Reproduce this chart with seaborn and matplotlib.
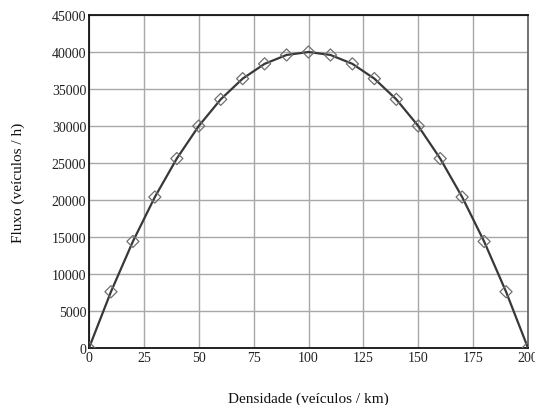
import matplotlib
matplotlib.use("Agg")
import matplotlib.pyplot as plt
import seaborn as sns
import pandas as pd

densidade = [0, 10, 20, 30, 40, 50, 60, 70, 80, 90, 100,
             110, 120, 130, 140, 150, 160, 170, 180, 190, 200]
fluxo = [0, 7600, 14400, 20400, 25600, 30000, 33600, 36400, 38400, 39600, 40000,
         39600, 38400, 36400, 33600, 30000, 25600, 20400, 14400, 7600, 0]
x_ticks = [0, 25, 50, 75, 100, 125, 150, 175, 200]
y_ticks = [0, 5000, 10000, 15000, 20000, 25000, 30000, 35000, 40000, 45000]

df = pd.DataFrame({"Densidade": densidade, "Fluxo": fluxo})

sns.set_style("white")
plt.rcParams["font.family"] = ["Liberation Serif", "DejaVu Serif"]

fig = plt.figure(figsize=(5.35, 4.06), dpi=100)
ax = fig.add_axes([89 / 535, 1 - 349 / 406, (528 - 89) / 535, (349 - 16) / 406])

sns.lineplot(data=df, x="Densidade", y="Fluxo", ax=ax, color="#383838",
             linewidth=1.6, zorder=3)
sns.scatterplot(data=df, x="Densidade", y="Fluxo", ax=ax, marker="D", s=38,
                facecolor="none", edgecolor="#707070", linewidth=0.9, zorder=4)

ax.set_xlim(0, 200)
ax.set_ylim(0, 45000)
ax.set_xticks(x_ticks)
ax.set_yticks(y_ticks)
ax.set_xticklabels([str(t) for t in x_ticks])
ax.set_yticklabels([str(t) for t in y_ticks])
ax.grid(True, color="#a8a8a8", linewidth=1.0, zorder=0)
ax.set_axisbelow(True)
ax.tick_params(axis="both", length=0, pad=2, labelsize=10, colors="#222222")
for side in ["left", "bottom", "top"]:
    ax.spines[side].set_color("#111111")
    ax.spines[side].set_linewidth(1.3)
ax.spines["right"].set_color("#666666")
ax.spines["right"].set_linewidth(1.3)

ax.set_xlabel("Densidade (veículos / km)", fontsize=11, labelpad=20, color="#111111")
ax.set_ylabel("Fluxo (veículos / h)", fontsize=11, labelpad=19, color="#111111")

fig.savefig("out.png", dpi=100)
